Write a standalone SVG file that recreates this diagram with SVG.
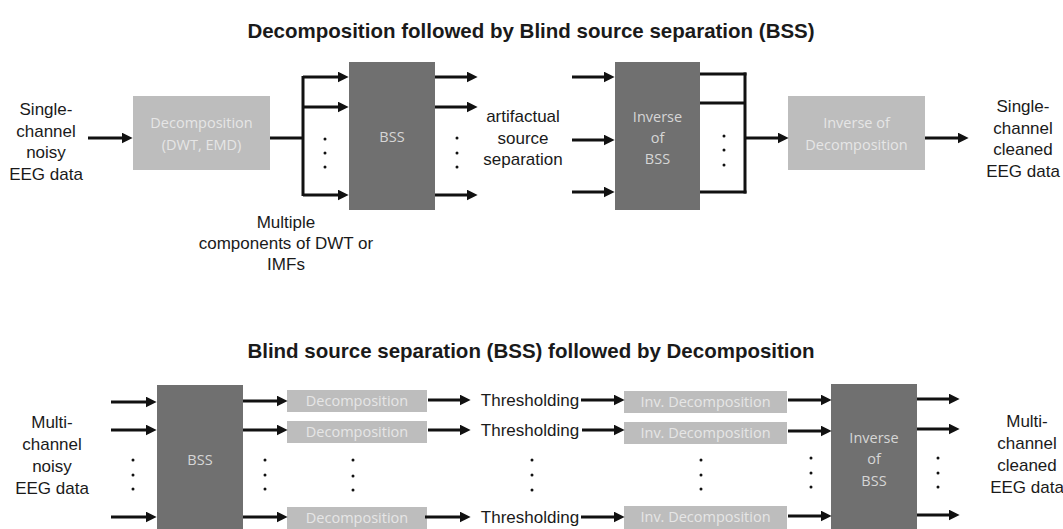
<svg xmlns="http://www.w3.org/2000/svg" width="1063" height="529" viewBox="0 0 1063 529">
<style>
.title{font-family:"Liberation Sans",Arial,sans-serif;font-size:20.5px;font-weight:bold;fill:#1a1a1a;text-anchor:middle}
.lbl{font-family:"Liberation Sans",Arial,sans-serif;font-size:17px;fill:#1a1a1a;text-anchor:middle}
.dark{fill:#707070}
.light{fill:#bdbdbd}
.dtxt{font-family:"Open Sans","Noto Sans",sans-serif;font-size:14.5px;fill:#d6d6d6;text-anchor:middle}
.ltxt{font-family:"Open Sans","Noto Sans",sans-serif;font-size:14.5px;fill:#e6e6e6;text-anchor:middle}
.c{stroke:#111;stroke-width:3;fill:none}
.a{stroke:#111;stroke-width:3;fill:none;marker-end:url(#ah)}
.dot{fill:#111}
</style>
<defs>
<marker id="ah" markerUnits="userSpaceOnUse" markerWidth="11" markerHeight="11" refX="4" refY="5" orient="auto" viewBox="0 0 10 10">
<path d="M0,0 L10,5 L0,10 z" fill="#111"/>
</marker>
</defs>
<rect width="1063" height="529" fill="#fff"/>

<text class="title" x="531" y="38">Decomposition followed by Blind source separation (BSS)</text>
<text class="title" x="531" y="358">Blind source separation (BSS) followed by Decomposition</text>

<!-- Top section nodes -->
<g id="top-input">
<text class="lbl" x="46" y="115">Single-</text>
<text class="lbl" x="46" y="136.5">channel</text>
<text class="lbl" x="46" y="158">noisy</text>
<text class="lbl" x="46" y="179.5">EEG data</text>
</g>
<g id="top-decomposition">
<rect class="light" x="133" y="96" width="137" height="74"/>
<text class="ltxt" x="201.5" y="128">Decomposition</text>
<text class="ltxt" x="201.5" y="150">(DWT, EMD)</text>
</g>
<g id="top-bss">
<rect class="dark" x="349" y="62" width="86" height="148"/>
<text class="dtxt" x="392" y="142">BSS</text>
</g>
<g id="top-artifactual">
<text class="lbl" x="523" y="122">artifactual</text>
<text class="lbl" x="523" y="143.5">source</text>
<text class="lbl" x="523" y="165">separation</text>
</g>
<g id="top-inverse-bss">
<rect class="dark" x="615" y="62" width="85" height="148"/>
<text class="dtxt" x="657.5" y="122">Inverse</text>
<text class="dtxt" x="657.5" y="143">of</text>
<text class="dtxt" x="657.5" y="164">BSS</text>
</g>
<g id="top-inverse-decomposition">
<rect class="light" x="788" y="96" width="137" height="74"/>
<text class="ltxt" x="856.5" y="128">Inverse of</text>
<text class="ltxt" x="856.5" y="150">Decomposition</text>
</g>
<g id="top-output">
<text class="lbl" x="1023" y="112">Single-</text>
<text class="lbl" x="1023" y="133.5">channel</text>
<text class="lbl" x="1023" y="155">cleaned</text>
<text class="lbl" x="1023" y="176.5">EEG data</text>
</g>
<g id="top-components-label">
<text class="lbl" x="286" y="228">Multiple</text>
<text class="lbl" x="286" y="249">components of DWT or</text>
<text class="lbl" x="286" y="270">IMFs</text>
</g>

<!-- Bottom section nodes -->
<g id="bot-input">
<text class="lbl" x="52" y="428">Multi-</text>
<text class="lbl" x="52" y="450">channel</text>
<text class="lbl" x="52" y="472">noisy</text>
<text class="lbl" x="52" y="494">EEG data</text>
</g>
<g id="bot-bss">
<rect class="dark" x="157" y="385" width="86" height="150"/>
<text class="dtxt" x="200" y="465">BSS</text>
</g>
<g id="bot-decomposition-1">
<rect class="light" x="287" y="390" width="140" height="22"/>
<text class="ltxt" x="357" y="406">Decomposition</text>
</g>
<g id="bot-decomposition-2">
<rect class="light" x="287" y="421" width="140" height="22"/>
<text class="ltxt" x="357" y="437">Decomposition</text>
</g>
<g id="bot-decomposition-n">
<rect class="light" x="287" y="507" width="140" height="28"/>
<text class="ltxt" x="357" y="523">Decomposition</text>
</g>
<g id="bot-thresholding-1"><text class="lbl" x="530" y="406">Thresholding</text></g>
<g id="bot-thresholding-2"><text class="lbl" x="530" y="436">Thresholding</text></g>
<g id="bot-thresholding-n"><text class="lbl" x="530" y="523">Thresholding</text></g>
<g id="bot-invdec-1">
<rect class="light" x="624" y="391" width="163" height="22"/>
<text class="ltxt" x="705.5" y="407">Inv. Decomposition</text>
</g>
<g id="bot-invdec-2">
<rect class="light" x="624" y="422" width="163" height="22"/>
<text class="ltxt" x="705.5" y="438">Inv. Decomposition</text>
</g>
<g id="bot-invdec-n">
<rect class="light" x="624" y="506" width="163" height="28"/>
<text class="ltxt" x="705.5" y="522">Inv. Decomposition</text>
</g>
<g id="bot-inverse-bss">
<rect class="dark" x="831" y="384" width="86" height="150"/>
<text class="dtxt" x="874" y="443">Inverse</text>
<text class="dtxt" x="874" y="464">of</text>
<text class="dtxt" x="874" y="486">BSS</text>
</g>
<g id="bot-output">
<text class="lbl" x="1027" y="427">Multi-</text>
<text class="lbl" x="1027" y="449">channel</text>
<text class="lbl" x="1027" y="471">cleaned</text>
<text class="lbl" x="1027" y="493">EEG data</text>
</g>

<!-- Connectors -->
<g id="connectors">
<!-- top -->
<line class="a" x1="88" y1="138" x2="126" y2="138"/>
<line class="c" x1="270" y1="138" x2="303" y2="138"/>
<line class="c" x1="303" y1="76" x2="303" y2="196"/>
<line class="a" x1="303" y1="77" x2="342" y2="77"/>
<line class="a" x1="303" y1="107" x2="342" y2="107"/>
<line class="a" x1="303" y1="195" x2="342" y2="195"/>
<line class="a" x1="435" y1="77" x2="471" y2="77"/>
<line class="a" x1="435" y1="107" x2="471" y2="107"/>
<line class="a" x1="435" y1="195" x2="471" y2="195"/>
<line class="a" x1="572" y1="77" x2="608" y2="77"/>
<line class="a" x1="572" y1="140" x2="608" y2="140"/>
<line class="a" x1="572" y1="192" x2="608" y2="192"/>
<line class="c" x1="700" y1="74" x2="746.5" y2="74"/>
<line class="c" x1="700" y1="103" x2="745" y2="103"/>
<line class="c" x1="700" y1="192" x2="746.5" y2="192"/>
<line class="c" x1="745" y1="72.5" x2="745" y2="193.5"/>
<line class="a" x1="745" y1="138" x2="782" y2="138"/>
<line class="a" x1="925" y1="138" x2="962" y2="138"/>
<!-- bottom -->
<line class="a" x1="111" y1="402" x2="150" y2="402"/>
<line class="a" x1="111" y1="430" x2="150" y2="430"/>
<line class="a" x1="111" y1="517" x2="150" y2="517"/>
<line class="a" x1="243" y1="401" x2="281" y2="401"/>
<line class="a" x1="243" y1="430" x2="281" y2="430"/>
<line class="a" x1="243" y1="517" x2="281" y2="517"/>
<line class="a" x1="428" y1="400" x2="464" y2="400"/>
<line class="a" x1="428" y1="430" x2="464" y2="430"/>
<line class="a" x1="425" y1="517" x2="464" y2="517"/>
<line class="a" x1="581" y1="400" x2="618" y2="400"/>
<line class="a" x1="582" y1="430" x2="618" y2="430"/>
<line class="a" x1="581" y1="517" x2="618" y2="517"/>
<line class="a" x1="788" y1="400" x2="825" y2="400"/>
<line class="a" x1="788" y1="431" x2="825" y2="431"/>
<line class="a" x1="788" y1="516" x2="825" y2="516"/>
<line class="a" x1="917" y1="399" x2="953" y2="399"/>
<line class="a" x1="917" y1="429" x2="953" y2="429"/>
<line class="a" x1="917" y1="515" x2="953" y2="515"/>
</g>

<!-- Ellipsis dots -->
<g id="dots">
<circle class="dot" cx="325" cy="139" r="1.5"/><circle class="dot" cx="325" cy="153" r="1.5"/><circle class="dot" cx="325" cy="167" r="1.5"/>
<circle class="dot" cx="457" cy="138" r="1.5"/><circle class="dot" cx="457" cy="153" r="1.5"/><circle class="dot" cx="457" cy="167" r="1.5"/>
<circle class="dot" cx="724" cy="136" r="1.5"/><circle class="dot" cx="724" cy="150" r="1.5"/><circle class="dot" cx="724" cy="165" r="1.5"/>
<circle class="dot" cx="133" cy="460" r="1.5"/><circle class="dot" cx="133" cy="475" r="1.5"/><circle class="dot" cx="133" cy="489" r="1.5"/>
<circle class="dot" cx="265" cy="460" r="1.5"/><circle class="dot" cx="265" cy="475" r="1.5"/><circle class="dot" cx="265" cy="489" r="1.5"/>
<circle class="dot" cx="353" cy="460" r="1.5"/><circle class="dot" cx="353" cy="476" r="1.5"/><circle class="dot" cx="353" cy="490" r="1.5"/>
<circle class="dot" cx="532" cy="460" r="1.5"/><circle class="dot" cx="532" cy="475" r="1.5"/><circle class="dot" cx="532" cy="490" r="1.5"/>
<circle class="dot" cx="701" cy="460" r="1.5"/><circle class="dot" cx="701" cy="475" r="1.5"/><circle class="dot" cx="701" cy="489" r="1.5"/>
<circle class="dot" cx="811" cy="458" r="1.5"/><circle class="dot" cx="811" cy="473" r="1.5"/><circle class="dot" cx="811" cy="487" r="1.5"/>
<circle class="dot" cx="938" cy="458" r="1.5"/><circle class="dot" cx="938" cy="473" r="1.5"/><circle class="dot" cx="938" cy="487" r="1.5"/>
</g>
</svg>
